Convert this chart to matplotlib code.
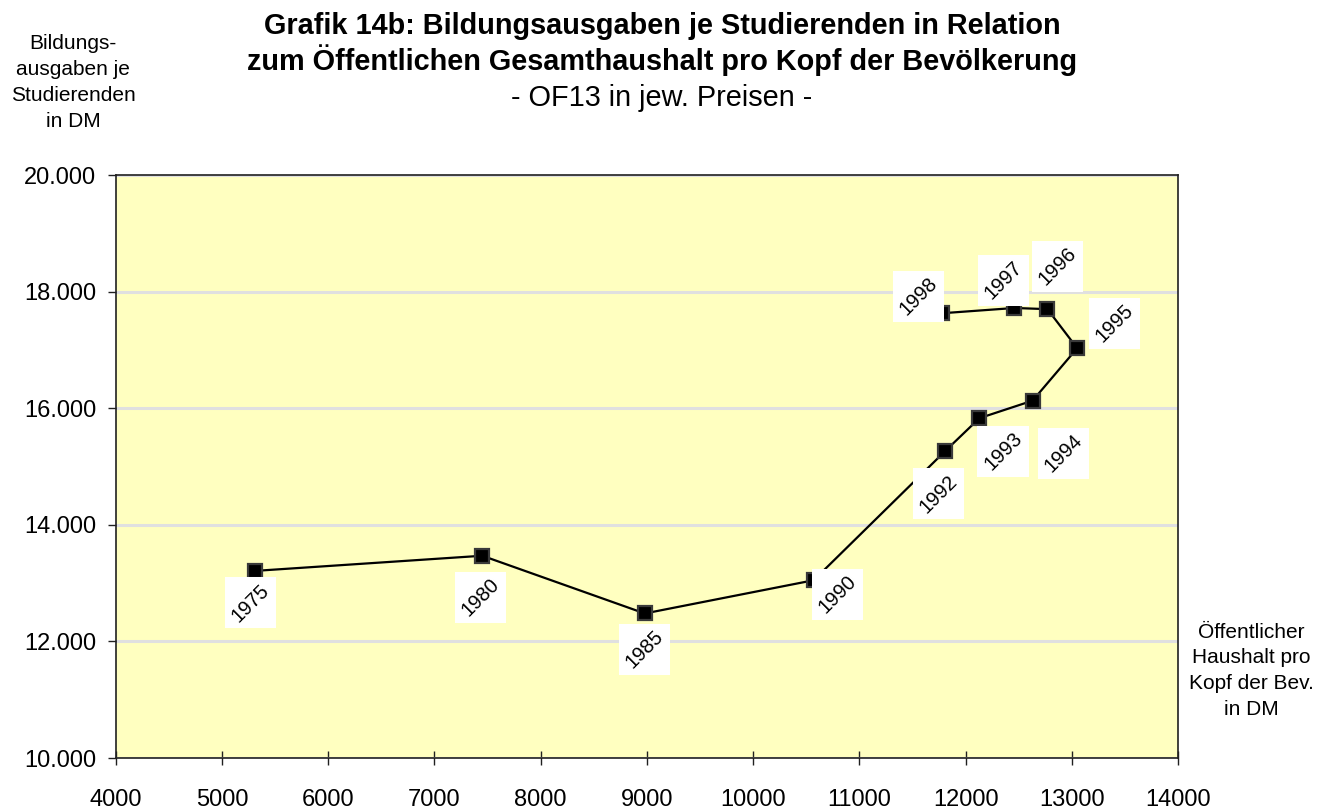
import numpy as np
import matplotlib.pyplot as plt
from matplotlib.patches import Rectangle
from matplotlib.ticker import FuncFormatter

plt.rcParams['font.family'] = ['Liberation Sans', 'DejaVu Sans']

# Data
jahre = ['1975', '1980', '1985', '1990', '1992', '1993', '1994',
         '1995', '1996', '1997', '1998']
haushalt = [5310, 7450, 8980, 10570, 11810, 12130, 12630,
            13050, 12770, 12460, 11780]
ausgaben = [13210, 13470, 12480, 13050, 15270, 15830, 16130,
            17030, 17700, 17720, 17630]

# label offsets in points (dx, dy)
offsets = [(-3, -23), (-1, -30), (0, -26), (17, -10), (-5, -31), (17, -24),
           (22, -38), (27, 18), (7, 31), (-8, 20), (-17, 12)]

fig = plt.figure(figsize=(13.33, 8.09), dpi=100)
ax = fig.add_axes([0.0868, 0.063, 0.797, 0.7206])
ax.set_facecolor('#FFFFC0')

ax.plot(haushalt, ausgaben, color='black', lw=1.6, marker='s', ms=9.5,
        mfc='black', mec='#3a3a3a', mew=1.6, zorder=3)

labels = []
for j, x, y, (dx, dy) in zip(jahre, haushalt, ausgaben, offsets):
    t = ax.annotate(j, (x, y), xytext=(dx, dy), textcoords='offset points',
                    rotation=45, ha='center', va='center', fontsize=14.5,
                    zorder=5)
    labels.append(t)

ax.set_xlim(4000, 14000)
ax.set_ylim(10000, 20000)
ax.set_xticks(np.arange(4000, 14001, 1000))
ax.set_yticks(np.arange(10000, 20001, 2000))
ax.yaxis.set_major_formatter(FuncFormatter(lambda v, p: f'{int(v):,}'.replace(',', '.')))
ax.grid(axis='y', color='#E0E0E0', lw=2.2)
ax.set_axisbelow(True)
ax.tick_params(axis='both', labelsize=17, width=1, color='#202020')
ax.tick_params(axis='x', direction='inout', length=10, pad=17)
ax.tick_params(axis='y', direction='out', length=6, pad=8)
for s in ax.spines.values():
    s.set_color('#202020')
    s.set_linewidth(1.2)

# white axis-aligned boxes behind the rotated year labels
fig.canvas.draw()
inv = fig.transFigure.inverted()
for t in labels:
    bb = t.get_window_extent()
    x0, y0 = inv.transform((bb.x0 - 3, bb.y0 - 3))
    x1, y1 = inv.transform((bb.x1 + 3, bb.y1 + 3))
    ax.add_patch(Rectangle((x0, y0), x1 - x0, y1 - y0, transform=fig.transFigure,
                           fc='white', ec='none', zorder=4))

fig.text(0.4966, 0.968, 'Grafik 14b: Bildungsausgaben je Studierenden in Relation',
         ha='center', va='center', fontsize=20.8, fontweight='bold')
fig.text(0.4966, 0.926, 'zum Öffentlichen Gesamthaushalt pro Kopf der Bevölkerung',
         ha='center', va='center', fontsize=20.8, fontweight='bold')
fig.text(0.4966, 0.879, '- OF13 in jew. Preisen -', ha='center', va='center', fontsize=20.8)

fig.text(0.055, 0.898, 'Bildungs-\nausgaben je\nStudierenden\nin DM',
         ha='center', va='center', fontsize=15, linespacing=1.45)
fig.text(0.939, 0.171, 'Öffentlicher\nHaushalt pro\nKopf der Bev.\nin DM',
         ha='center', va='center', fontsize=15, linespacing=1.45)

fig.savefig('out.png', dpi=100)
